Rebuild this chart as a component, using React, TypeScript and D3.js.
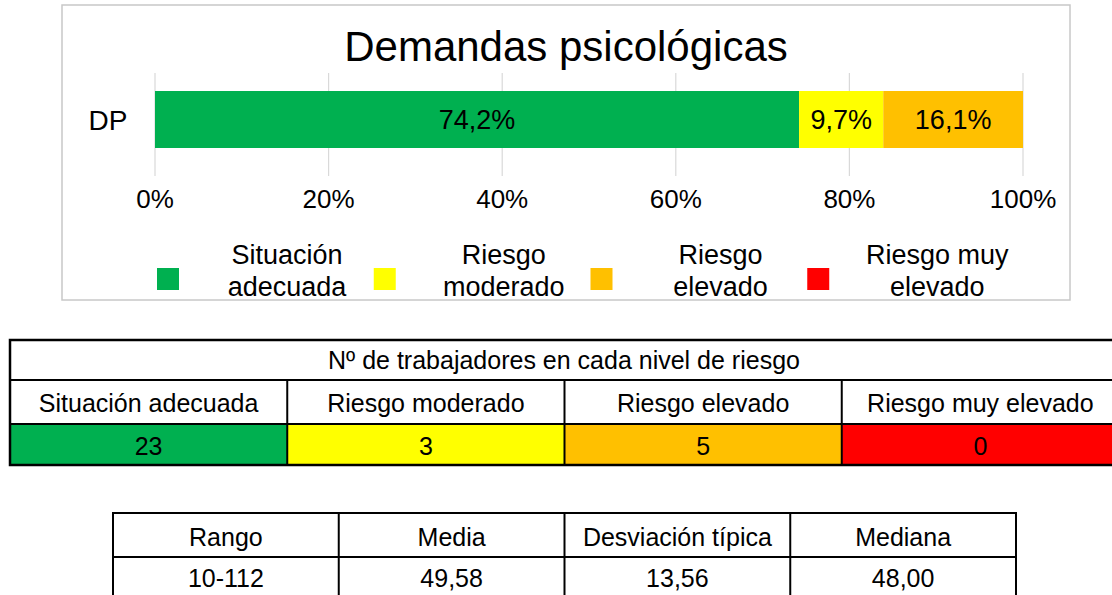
import * as d3 from "d3";

const categories = ["Situación adecuada", "Riesgo moderado", "Riesgo elevado", "Riesgo muy elevado"];
const legendLines = [["Situación", "adecuada"], ["Riesgo", "moderado"], ["Riesgo", "elevado"], ["Riesgo muy", "elevado"]];
const colors = ["#00B050", "#FFFF00", "#FFC000", "#FF0000"];
const percentages = [74.2, 9.7, 16.1, 0];
const counts = [23, 3, 5, 0];
const ticks = [0, 20, 40, 60, 80, 100];
const rowLabel = "DP";
const statsHeaders = ["Rango", "Media", "Desviación típica", "Mediana"];
const statsValues = ["10-112", "49,58", "13,56", "48,00"];

const font = "'Liberation Sans', Arial, sans-serif";
const fmt = (v: number) => v.toFixed(1).replace(".", ",") + "%";

export default function App() {
  const x = d3.scaleLinear().domain([0, 100]).range([155, 1023]);
  const y = d3.scaleBand().domain([rowLabel]).range([91, 148]);
  const starts = [0, ...Array.from(d3.cumsum(percentages))];
  const legendX = d3.scaleBand().domain(categories).range([157, 1024]);

  const t1 = d3.scaleBand().domain(categories).range([10, 1119]);
  const t2 = d3.scaleBand().domain(statsHeaders).range([113, 1016]);

  const by = y(rowLabel)!;
  const bh = y.bandwidth();

  return (
    <svg width={1112} height={595} style={{ position: "absolute", left: 0, top: 0, fontFamily: font }}>
      <rect x={0} y={0} width={1112} height={595} fill="#fff" />
      {/* chart box */}
      <rect x={62} y={5} width={1008} height={295} fill="#fff" stroke="#c8c8c8" strokeWidth={1.5} />
      <text x={566} y={61} textAnchor="middle" fontSize={42} fill="#000">
        Demandas psicológicas
      </text>
      {ticks.map((t) => (
        <line key={t} x1={x(t)} x2={x(t)} y1={73} y2={176} stroke="#d9d9d9" strokeWidth={1.2} />
      ))}
      <text x={108} y={by + bh / 2 + 10} textAnchor="middle" fontSize={28} fill="#000">
        {rowLabel}
      </text>
      {percentages.map((p, i) =>
        p > 0 ? (
          <g key={i}>
            <rect x={x(starts[i])} y={by} width={x(starts[i] + p) - x(starts[i])} height={bh} fill={colors[i]} />
            <text
              x={(x(starts[i]) + x(starts[i] + p)) / 2}
              y={by + bh / 2 + 9}
              textAnchor="middle"
              fontSize={27}
              fill="#000"
            >
              {fmt(p)}
            </text>
          </g>
        ) : null
      )}
      {ticks.map((t) => (
        <text key={t} x={x(t)} y={208} textAnchor="middle" fontSize={26} fill="#000">
          {t}%
        </text>
      ))}
      {categories.map((c, i) => {
        const lx = legendX(c)!;
        return (
          <g key={c}>
            <rect x={lx} y={268} width={22} height={22} fill={colors[i]} />
            {legendLines[i].map((ln, j) => (
              <text key={j} x={lx + 130} y={264 + j * 32} textAnchor="middle" fontSize={27} fill="#000">
                {ln}
              </text>
            ))}
          </g>
        );
      })}

      {/* workers table */}
      <g>
        <rect x={10} y={340} width={1109} height={125} fill="#fff" />
        <text x={564} y={369} textAnchor="middle" fontSize={25} fill="#000">
          Nº de trabajadores en cada nivel de riesgo
        </text>
        {categories.map((c, i) => (
          <g key={c}>
            <rect x={t1(c)!} y={424} width={t1.bandwidth()} height={41} fill={colors[i]} />
            <text x={t1(c)! + t1.bandwidth() / 2} y={412} textAnchor="middle" fontSize={25} fill="#000">
              {c}
            </text>
            <text x={t1(c)! + t1.bandwidth() / 2} y={455} textAnchor="middle" fontSize={25} fill="#000">
              {counts[i]}
            </text>
            {i > 0 && <line x1={t1(c)!} x2={t1(c)!} y1={380} y2={465} stroke="#000" strokeWidth={2} />}
          </g>
        ))}
        <line x1={10} x2={1119} y1={380} y2={380} stroke="#000" strokeWidth={2} />
        <line x1={10} x2={1119} y1={424} y2={424} stroke="#000" strokeWidth={2} />
        <rect x={10} y={340} width={1109} height={125} fill="none" stroke="#000" strokeWidth={2.5} />
      </g>

      {/* stats table */}
      <g>
        {statsHeaders.map((h, i) => (
          <g key={h}>
            <text x={t2(h)! + t2.bandwidth() / 2} y={546} textAnchor="middle" fontSize={25} fill="#000">
              {h}
            </text>
            <text x={t2(h)! + t2.bandwidth() / 2} y={587} textAnchor="middle" fontSize={25} fill="#000">
              {statsValues[i]}
            </text>
            {i > 0 && <line x1={t2(h)!} x2={t2(h)!} y1={513} y2={600} stroke="#000" strokeWidth={2} />}
          </g>
        ))}
        <line x1={113} x2={1016} y1={557} y2={557} stroke="#000" strokeWidth={2} />
        <rect x={113} y={513} width={903} height={100} fill="none" stroke="#000" strokeWidth={2} />
      </g>
    </svg>
  );
}
